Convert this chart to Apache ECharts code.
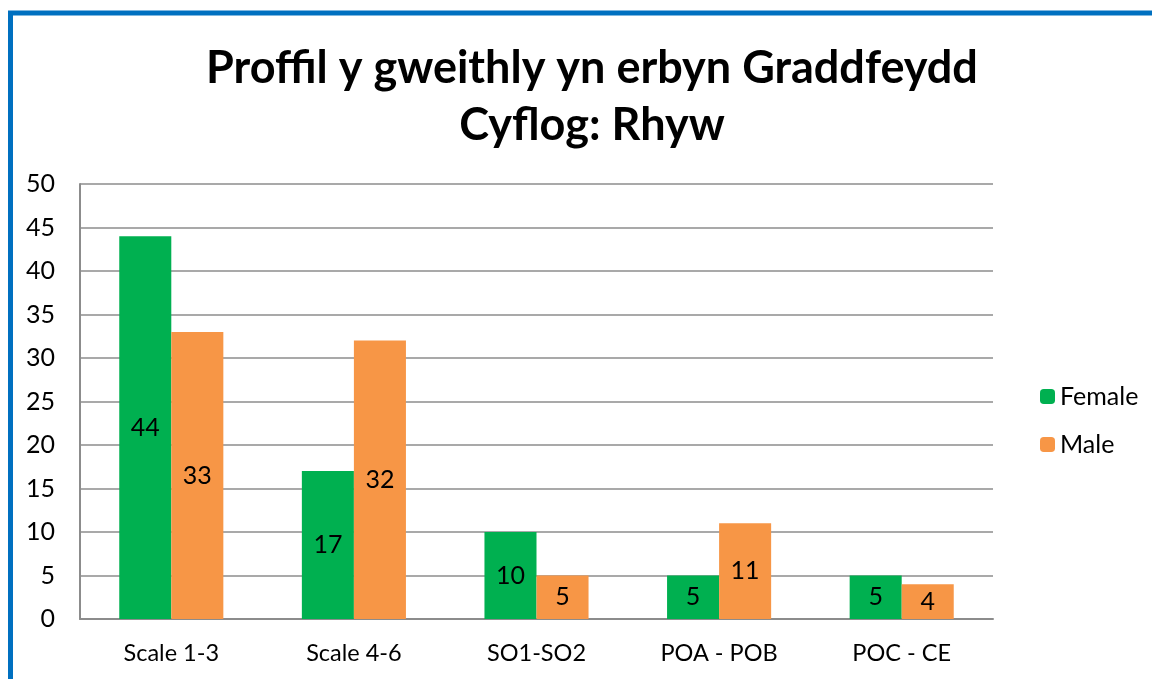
<!DOCTYPE html>
<html><head><meta charset="utf-8">
<script src="https://cdn.jsdelivr.net/npm/echarts@6/dist/echarts.min.js"></script>
<style>html,body{margin:0;padding:0;background:#fff}#c{width:1152px;height:679px}</style>
</head><body><div id="c"></div>
<script>
const categories = ['Scale 1-3', 'Scale 4-6', 'SO1-SO2', 'POA - POB', 'POC - CE'];
const female = [44, 17, 10, 5, 5];
const male = [33, 32, 5, 11, 4];
const seriesNames = ['Female', 'Male'];
const titleText = 'Proffil y gweithly yn erbyn Graddfeydd\nCyflog: Rhyw';

const font = 'Lato';
const chart = echarts.init(document.getElementById('c'), null, {renderer: 'canvas'});
const label = {show: true, position: 'inside', color: '#000', fontSize: 25, fontFamily: font};
chart.setOption({
  animation: false,
  backgroundColor: '#fff',
  title: {
    text: titleText, left: 587, top: 35, textAlign: 'center',
    textStyle: {fontSize: 45, fontWeight: 'bold', color: '#000', lineHeight: 57, fontFamily: font}
  },
  legend: {
    orient: 'vertical', left: 1035, top: 379, itemWidth: 15, itemHeight: 15, itemGap: 23,
    textStyle: {fontSize: 25, color: '#000', fontFamily: font},
    data: seriesNames
  },
  grid: {left: 80, top: 184, right: 159, bottom: 60, containLabel: false},
  xAxis: {
    type: 'category', data: categories,
    axisLine: {lineStyle: {color: '#8c8c8c', width: 2}},
    axisTick: {show: false},
    axisLabel: {color: '#000', fontSize: 23.5, margin: 22, fontFamily: font}
  },
  yAxis: {
    type: 'value', min: 0, max: 50, interval: 5,
    axisLine: {show: true, lineStyle: {color: '#8c8c8c', width: 2}},
    axisTick: {show: false},
    splitLine: {lineStyle: {color: '#8c8c8c', width: 1.5}},
    axisLabel: {color: '#000', fontSize: 25, margin: 25, fontFamily: font}
  },
  series: [
    {name: seriesNames[0], type: 'bar', data: female, itemStyle: {color: '#00B050'}, barGap: '0%', barCategoryGap: '43%', label: label},
    {name: seriesNames[1], type: 'bar', data: male, itemStyle: {color: '#F79646'}, label: label}
  ],
  graphic: [
    {type: 'line', shape: {x1: 10.5, y1: 13, x2: 10.5, y2: 700}, style: {stroke: '#0070C0', lineWidth: 5}, z: 100},
    {type: 'line', shape: {x1: 8, y1: 13, x2: 1160, y2: 13}, style: {stroke: '#0070C0', lineWidth: 5}, z: 100}
  ]
});
</script></body></html>
